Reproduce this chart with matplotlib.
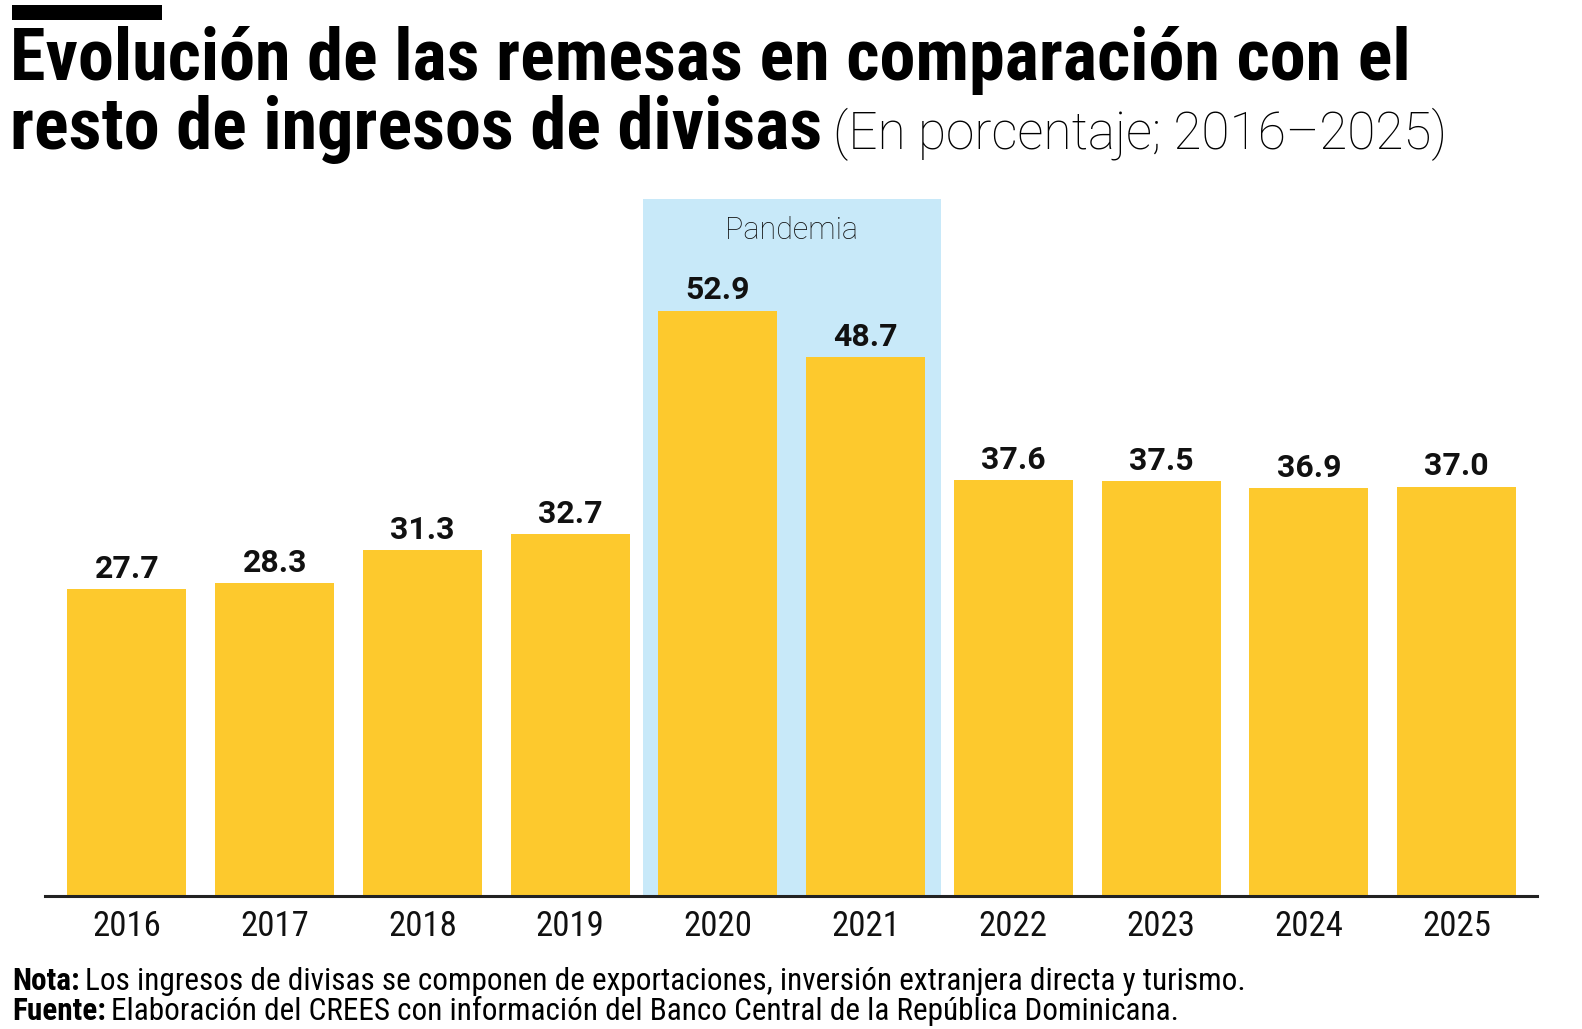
import numpy as np
import matplotlib
matplotlib.use('Agg')
import matplotlib.pyplot as plt
from matplotlib import font_manager
from matplotlib.patches import Rectangle

# --- Data ---
years = ['2016', '2017', '2018', '2019', '2020', '2021', '2022', '2023', '2024', '2025']
values = [27.7, 28.3, 31.3, 32.7, 52.9, 48.7, 37.6, 37.5, 36.9, 37.0]
pandemic_years = ['2020', '2021']

title_1 = 'Evolución de las remesas en comparación con el'
title_2 = 'resto de ingresos de divisas'
subtitle = '(En porcentaje; 2016–2025)'
band_label = 'Pandemia'
note_head, note_body = 'Nota:', 'Los ingresos de divisas se componen de exportaciones, inversión extranjera directa y turismo.'
src_head, src_body = 'Fuente:', 'Elaboración del CREES con información del Banco Central de la República Dominicana.'

# --- Style ---
YELLOW = '#FDC92D'
BLUE = '#C8E9F9'
INK = '#111111'

names = {f.name for f in font_manager.fontManager.ttflist}
def pick(*cands):
    for c in cands:
        if c in names:
            return c
    return 'DejaVu Sans'

NARROW = pick('Roboto Condensed', 'Liberation Sans Narrow', 'Open Sans Condensed', 'DejaVu Sans')
LIGHT = pick('Roboto', 'Lato', 'Open Sans')
BOLD = pick('Roboto', 'Lato', 'DejaVu Sans')

W, H = 1582, 1029
fig = plt.figure(figsize=(W / 100, H / 100), dpi=100)

def fx(px):
    return px / W

def fy(py):
    return 1 - py / H

# axes: left edge of baseline to right edge, top at band top
ax_top, ax_bot, ax_l, ax_r = 198.8, 896, 45.4, 1537
ax = fig.add_axes([fx(ax_l), fy(ax_bot), fx(ax_r - ax_l), (ax_bot - ax_top) / H])

x = np.arange(len(years))
ax.bar(x, values, width=0.806, color=YELLOW, zorder=2, linewidth=0)

i0, i1 = years.index(pandemic_years[0]), years.index(pandemic_years[-1])
ax.axvspan(i0 - 0.51, i1 + 0.51, color=BLUE, zorder=1, lw=0)
ax.text((i0 + i1) / 2, 0.955, band_label, transform=ax.get_xaxis_transform(),
        ha='center', va='center', fontsize=22, family=LIGHT, fontweight='light', color=INK)

for xi, v in zip(x, values):
    ax.annotate(f'{v:.1f}', (xi, v), xytext=(0, 8), textcoords='offset points',
                ha='center', va='baseline', fontsize=23, fontweight='bold',
                family=BOLD, color=INK, zorder=3)

ax.set_xlim(-0.552, 9.545)
ax.set_ylim(0, 63)
for s in ['top', 'left', 'right']:
    ax.spines[s].set_visible(False)
ax.spines['bottom'].set_linewidth(2.2)
ax.spines['bottom'].set_color('#222222')
ax.spines['bottom'].set_zorder(4)
ax.set_yticks([])
ax.set_xticks(x)
ax.set_xticklabels(years, family=NARROW, fontsize=25, color=INK)
ax.tick_params(axis='x', length=0, pad=10)

# --- Header ---
fig.add_artist(Rectangle((fx(12), fy(20)), fx(150), 15 / H, color='black',
                         transform=fig.transFigure, lw=0))
fig.text(fx(10), fy(80), title_1, fontsize=52, fontweight='black', family=NARROW,
         va='baseline', color='black')
t2 = fig.text(fx(10), fy(149), title_2, fontsize=52, fontweight='black', family=NARROW,
              va='baseline', color='black')

# --- Footer ---
n1 = fig.text(fx(12), fy(990), note_head, fontsize=22.5, fontweight='bold', family=NARROW,
              va='baseline', color='black')
s1 = fig.text(fx(12), fy(1020), src_head, fontsize=22.5, fontweight='bold', family=NARROW,
              va='baseline', color='black')

fig.canvas.draw()
r = fig.canvas.get_renderer()

def after(t, gap_px):
    bb = t.get_window_extent(renderer=r)
    return fx(bb.x1 + gap_px)

fig.text(after(t2, 11), fy(149), subtitle, fontsize=37, fontweight='light', family=LIGHT,
         va='baseline', color='black')
fig.text(after(n1, 5), fy(990), note_body, fontsize=22.5, family=NARROW,
         va='baseline', color='black')
fig.text(after(s1, 5), fy(1020), src_body, fontsize=22.5, family=NARROW,
         va='baseline', color='black')

fig.savefig('out.png', dpi=100)
